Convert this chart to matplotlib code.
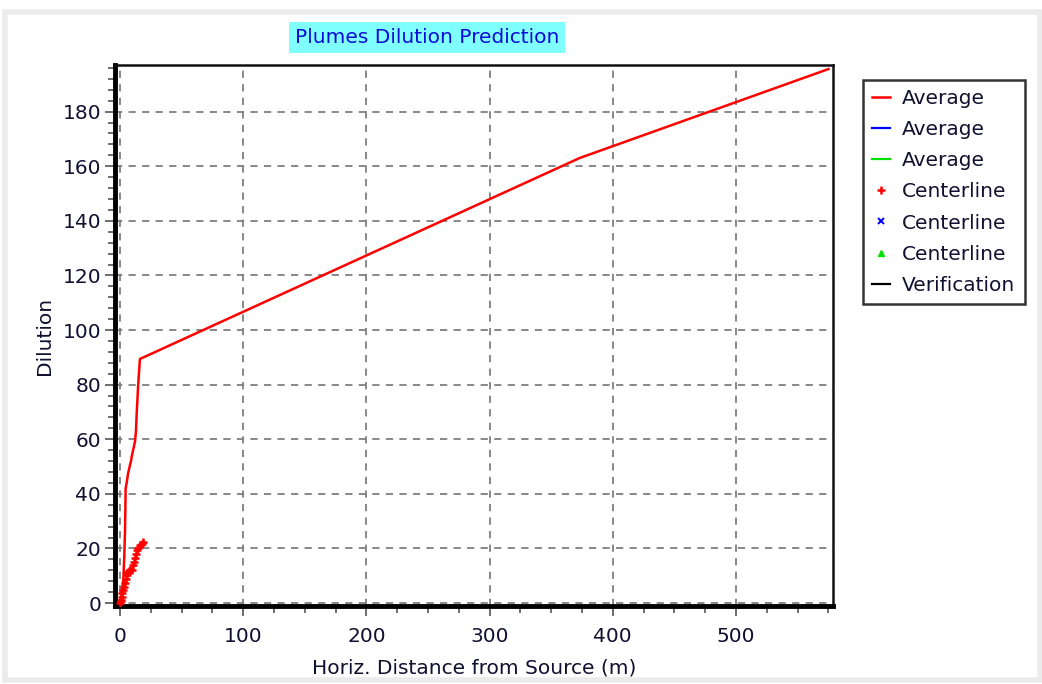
import matplotlib.pyplot as plt
from matplotlib.patches import Rectangle
from matplotlib.ticker import MultipleLocator

# average dilution along the plume (red run)
avg_x = [0, 1.0, 2.0, 2.7, 3.5, 4.1, 4.6, 5.4, 6.6, 8.1, 9.0, 9.5, 11.4, 12.2,
         13.0, 13.6, 14.8, 15.7, 16.2, 373, 575]
avg_y = [0, 2.5, 5.5, 8.4, 17.0, 26.1, 42.0, 43.9, 47.5, 50.5, 52.0, 53.6, 57.5,
         59.1, 63.0, 69.6, 80.0, 86.1, 89.4, 163.0, 195.6]

# centerline dilution (red markers)
cl_x = [0, 0.5, 1.0, 1.4, 2.0, 2.7, 3.3, 4.1, 4.8, 5.4, 6.0, 6.5, 7.5, 8.5,
        9.5, 10.6, 11.4, 12.2, 13.0, 13.6, 15.0, 16.2, 17.5, 18.7]
cl_y = [0, 0.6, 1.1, 2.3, 3.5, 4.8, 6.0, 7.3, 8.8, 10.3, 10.9, 11.4, 11.8, 12.0,
        12.1, 13.9, 15.2, 16.5, 18.0, 19.4, 20.0, 21.2, 21.8, 22.3]

x_ticks = [0, 100, 200, 300, 400, 500]
y_ticks = [0, 20, 40, 60, 80, 100, 120, 140, 160, 180]

plt.rcParams['font.family'] = ['DejaVu Sans']
txt = '#101030'
fs = 14.5

fig = plt.figure(figsize=(10.42, 6.84), dpi=100)
fig.patches.append(Rectangle((0.005, 0.006), 0.993, 0.976, transform=fig.transFigure,
                             fill=False, edgecolor='#ebebeb', linewidth=4))

ax = fig.add_axes([0.1104, 0.114, 0.6890, 0.791])

ax.plot(avg_x, avg_y, color='red', lw=1.8, label='Average', zorder=4)
ax.plot([], [], color='blue', lw=1.6, label='Average')
ax.plot([], [], color='#00e000', lw=1.6, label='Average')
ax.plot(cl_x, cl_y, ls='none', marker='+', ms=6, mew=1.8, color='red',
        label='Centerline', zorder=5)
ax.plot([], [], ls='none', marker='x', ms=4, mew=1.4, color='blue', label='Centerline')
ax.plot([], [], ls='none', marker='^', ms=4, color='#00e000', label='Centerline')
ax.plot([], [], color='black', lw=1.6, label='Verification')

ax.set_xlim(-4, 578.7)
ax.set_ylim(-1.1, 197.1)
ax.set_xticks(x_ticks)
ax.set_yticks(y_ticks)
ax.xaxis.set_minor_locator(MultipleLocator(25))
ax.yaxis.set_minor_locator(MultipleLocator(4))
ax.tick_params(which='major', length=7, width=1.2, color='#555555',
               labelsize=fs, labelcolor=txt, pad=3)
ax.tick_params(axis='x', which='major', pad=8)
ax.tick_params(which='minor', length=5, width=1.2, color='#555555')

ax.grid(True, which='major', color='#7f7f7f', ls=(0, (4, 3.5)), lw=1.3)

for side in ['left', 'bottom']:
    ax.spines[side].set_linewidth(3.5)
    ax.spines[side].set_color('black')
for side in ['top', 'right']:
    ax.spines[side].set_linewidth(1.8)
    ax.spines[side].set_color('#111111')

ax.set_xlabel('Horiz. Distance from Source (m)', fontsize=fs, color=txt, labelpad=9)
ax.set_ylabel('Dilution', fontsize=fs, color=txt, labelpad=6)

fig.text(0.41, 0.945, 'Plumes Dilution Prediction', ha='center', va='center',
         fontsize=fs, color='#0a0ad8',
         bbox=dict(boxstyle='square,pad=0.3', facecolor='#80ffff', edgecolor='none'))

leg = ax.legend(loc='upper left', bbox_to_anchor=(1.0418, 0.972), fontsize=fs,
                frameon=True, fancybox=False, handlelength=0.9, handletextpad=0.6,
                borderpad=0.45, labelspacing=0.6, borderaxespad=0)
leg.get_frame().set_edgecolor('black')
leg.get_frame().set_linewidth(1.8)
for t in leg.get_texts():
    t.set_color(txt)

fig.savefig('out.png', dpi=100)
